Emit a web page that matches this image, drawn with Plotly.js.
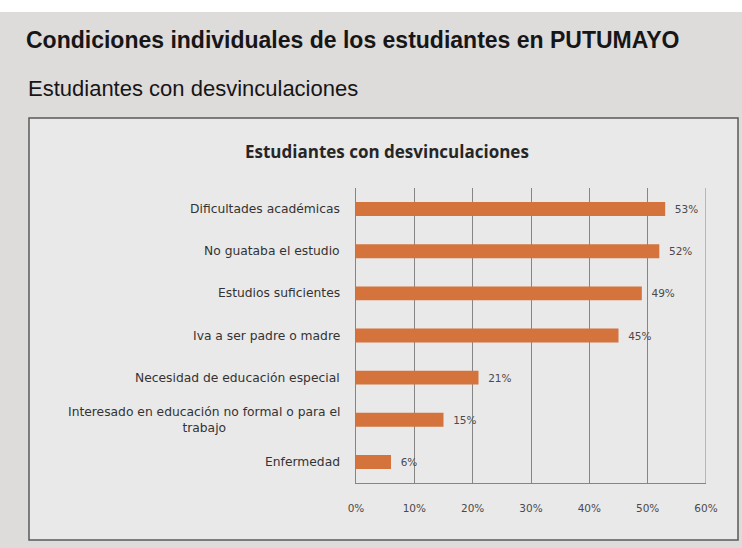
<!DOCTYPE html>
<html>
<head>
<meta charset="utf-8">
<script src="https://cdn.plot.ly/plotly-3.0.1.min.js"></script>
<style>html,body{margin:0;padding:0;background:#dedbdb;}#chart{width:742px;height:548px;}</style>
</head>
<body>
<div id="chart"></div>
<script>
const pageTitle = "Condiciones individuales de los estudiantes en PUTUMAYO";
const pageSubtitle = "Estudiantes con desvinculaciones";
const chartTitle = "Estudiantes con desvinculaciones";
const categories = [
  "Dificultades académicas",
  "No guataba el estudio",
  "Estudios suficientes",
  "Iva a ser padre o madre",
  "Necesidad de educación especial",
  "Interesado en educación no formal o para el<br>trabajo",
  "Enfermedad"
];
const values = [53, 52, 49, 45, 21, 15, 6];
const xTicks = [0, 10, 20, 30, 40, 50, 60];

const W = 742, H = 548, L = 356, R = 36, T = 188, B = 65;
const pw = W - L - R, ph = H - T - B;
const px = x => (x - L) / pw;
const py = y => (H - B - y) / ph;
const labelFont = '"DejaVu Sans", "Open Sans", sans-serif';

const catAnnotations = categories.map(c => ({
  xref: 'paper', yref: 'y', x: px(342), y: c, xanchor: 'right', yanchor: 'middle',
  text: c, align: 'center', showarrow: false,
  font: {family: labelFont, size: 12.3, color: '#333333'}
}));

const data = [{
  type: 'bar', orientation: 'h', y: categories, x: values,
  marker: {color: '#d5733d'},
  text: values.map(v => v + '%'),
  texttemplate: '\u00a0\u00a0%{text}',
  textposition: 'outside', cliponaxis: false,
  textfont: {family: labelFont, size: 10.5, color: '#4a4a4a'},
  hoverinfo: 'none'
}];

const layout = {
  width: W, height: H,
  margin: {l: L, r: R, t: T, b: B},
  paper_bgcolor: '#dedbdb',
  plot_bgcolor: 'rgba(0,0,0,0)',
  showlegend: false,
  bargap: 0.67,
  title: {
    text: '<b>' + pageTitle + '</b>',
    x: 26 / W, xanchor: 'left', xref: 'container',
    y: 1 - 40 / H, yanchor: 'middle', yref: 'container',
    font: {family: '"Liberation Sans", Arial, sans-serif', size: 23, color: '#161616'}
  },
  xaxis: {
    range: [0, 60], tickvals: xTicks, ticktext: xTicks.map(v => v + '%'),
    showgrid: true, gridcolor: '#858585', gridwidth: 1,
    zeroline: false, showline: true, linecolor: '#858585', mirror: false,
    ticks: '', ticklabelstandoff: 15,
    tickfont: {family: labelFont, size: 10.5, color: '#4a4a4a'},
    fixedrange: true
  },
  yaxis: {
    type: 'category', autorange: 'reversed', showticklabels: false,
    showgrid: false, zeroline: false, showline: true, linecolor: '#858585',
    ticks: '', fixedrange: true
  },
  shapes: [
    {type: 'rect', xref: 'paper', yref: 'paper', x0: px(0), x1: px(W), y0: py(0), y1: py(12),
     fillcolor: '#ffffff', line: {width: 0}, layer: 'below'},
    {type: 'rect', xref: 'paper', yref: 'paper', x0: px(29), x1: px(738), y0: py(540), y1: py(118),
     fillcolor: '#eae9e9', line: {color: '#5a5a5a', width: 1.5}, layer: 'below'},
    {type: 'line', xref: 'x', yref: 'paper', x0: 60, x1: 60, y0: 0, y1: 1,
     line: {color: '#858585', width: 1}}
  ],
  annotations: [
    {xref: 'paper', yref: 'paper', x: px(26), y: py(88), xanchor: 'left', yanchor: 'middle',
     text: pageSubtitle, showarrow: false,
     font: {family: '"Liberation Sans", Arial, sans-serif', size: 22, color: '#161616'}},
    {xref: 'paper', yref: 'paper', x: px(387), y: py(151), xanchor: 'center', yanchor: 'middle',
     text: '<b>' + chartTitle + '</b>', showarrow: false,
     font: {family: '"Open Sans", Lato, sans-serif', size: 17, color: '#262626'}}
  ].concat(catAnnotations)
};

Plotly.newPlot('chart', data, layout, {displayModeBar: false, staticPlot: true});
</script>
</body>
</html>
